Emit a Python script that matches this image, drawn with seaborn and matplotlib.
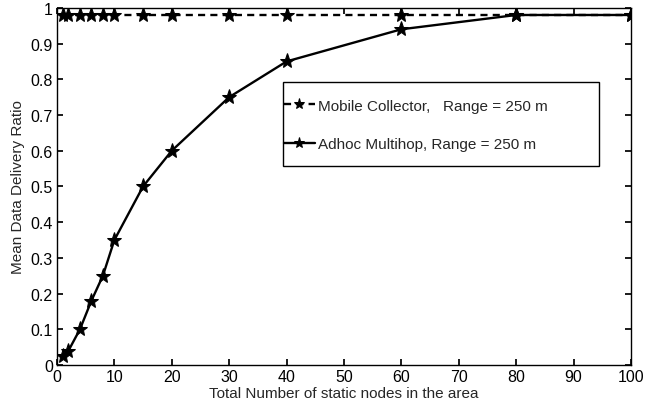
import matplotlib
matplotlib.use("Agg")
import matplotlib.pyplot as plt
from matplotlib.patches import Rectangle
import seaborn as sns
import pandas as pd

nodes = [1, 2, 4, 6, 8, 10, 15, 20, 30, 40, 60, 80, 100]
mobile_collector = [0.98, 0.98, 0.98, 0.98, 0.98, 0.98, 0.98, 0.98, 0.98, 0.98, 0.98, 0.98, 0.98]
adhoc_multihop = [0.025, 0.04, 0.10, 0.18, 0.25, 0.35, 0.50, 0.60, 0.75, 0.85, 0.94, 0.98, 0.98]
labels = ["Mobile Collector,   Range = 250 m", "Adhoc Multihop, Range = 250 m"]

sns.set_theme(style="white")
plt.rcParams['font.family'] = ['Liberation Sans', 'DejaVu Sans']

df = pd.concat([
    pd.DataFrame({"x": nodes, "y": mobile_collector, "s": labels[0]}),
    pd.DataFrame({"x": nodes, "y": adhoc_multihop, "s": labels[1]}),
])

fig = plt.figure(figsize=(6.58, 4.02), dpi=100)
ax = fig.add_axes([0.0866, 0.0896, 0.8724, 0.8884])
sns.lineplot(data=df, x="x", y="y", hue="s", style="s",
             palette=["black", "black"], dashes=[(3, 2.2), ""],
             markers=["*", "*"], markersize=11, linewidth=1.7,
             markeredgecolor="black", ax=ax, legend=True)

ax.set_xlim(0, 100)
ax.set_ylim(0, 1)
ax.set_xticks(range(0, 101, 10))
ax.set_yticks([i / 10 for i in range(11)])
ax.set_yticklabels(["0", "0.1", "0.2", "0.3", "0.4", "0.5", "0.6", "0.7", "0.8", "0.9", "1"])
ax.tick_params(direction="in", length=4, labelsize=11.5, colors="black", top=True, right=True,
               bottom=True, left=True, labeltop=False, labelright=False, pad=3)
for sp in ax.spines.values():
    sp.set_color("black")
    sp.set_linewidth(1.0)
ax.set_xlabel("Total Number of static nodes in the area", fontsize=11)
ax.xaxis.set_label_coords(0.5, -0.058)
ax.set_ylabel("Mean Data Delivery Ratio", fontsize=11, labelpad=4)

# legend frame
ax.add_patch(Rectangle((0.394, 0.557), 0.5505, 0.236, transform=ax.transAxes,
                       facecolor="white", edgecolor="black", linewidth=1.0, zorder=5))
leg = ax.legend(title=None, loc="upper left", bbox_to_anchor=(0.3955, 0.746),
                fontsize=11, frameon=False, handlelength=2.0, handletextpad=0.25,
                labelspacing=1.6, borderpad=0, borderaxespad=0)
leg.set_zorder(6)
for h in leg.legend_handles:
    h.set_markersize(8)

fig.savefig("out.png", dpi=100)
